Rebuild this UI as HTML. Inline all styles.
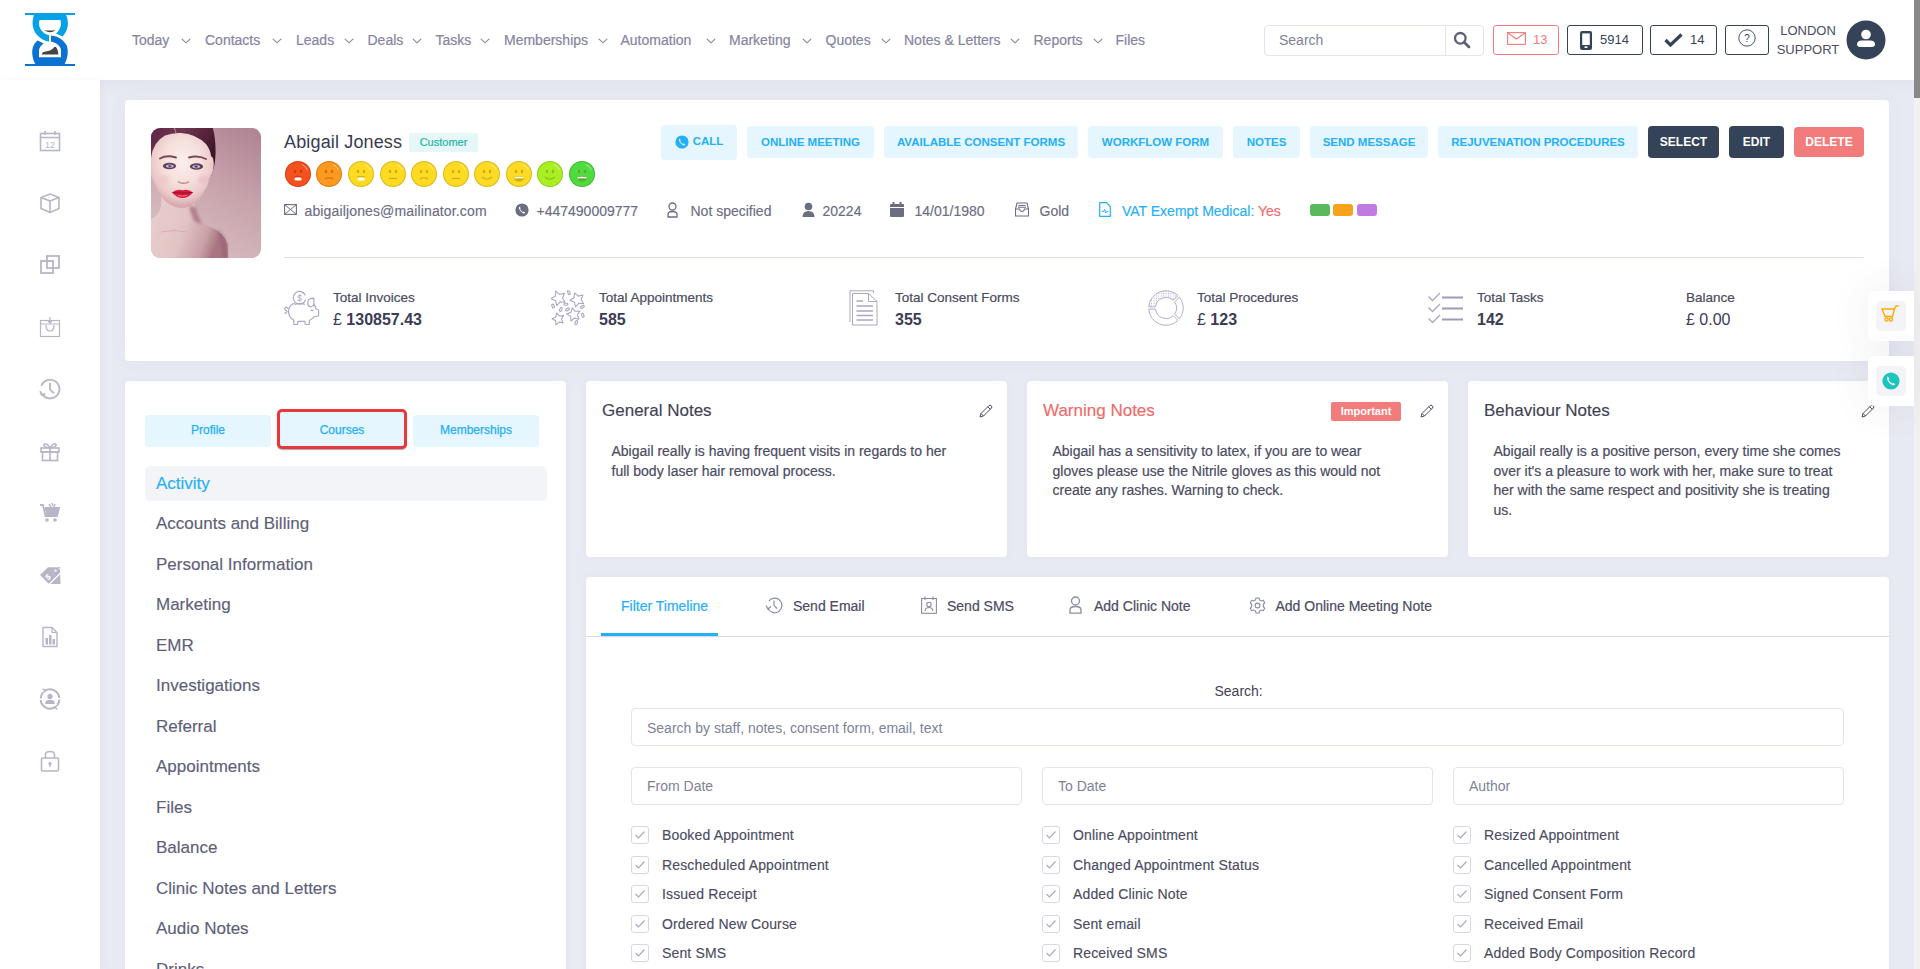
<!DOCTYPE html>
<html><head><meta charset="utf-8">
<style>
*{box-sizing:border-box;margin:0;padding:0}
html,body{width:1920px;height:969px;overflow:hidden}
body{font-family:"Liberation Sans",sans-serif;background:#e8eaf3;position:relative;color:#3f4254}
.a{position:absolute}
svg{display:block}
.hdr{left:0;top:0;width:1914px;height:80px;background:#fff;box-shadow:0 3px 12px rgba(82,63,105,.05)}
.side{left:0;top:80px;width:100px;height:889px;background:#fff;box-shadow:2px 0 6px rgba(82,63,105,.04)}
.sb{left:1914px;top:0;width:6px;height:969px;background:#f1f1f1}
.sbt{left:1914px;top:0;width:6px;height:98px;background:#888}
.nav{top:32px;font-size:14px;color:#86849f;-webkit-text-stroke:.2px #86849f;white-space:nowrap;line-height:16px}
.chev{top:38px}
.card{background:#fff;border-radius:4px;box-shadow:0 0 10px rgba(82,63,105,.03)}
.btn{top:126px;height:32px;background:#e5f6fe;color:#24b0f6;font-size:11.5px;font-weight:700;border-radius:4px;text-align:center;line-height:32px;white-space:nowrap}
.dbtn{background:#344357;color:#fff;font-size:12px}
.info{top:202.8px;font-size:14px;color:#6b6d83;-webkit-text-stroke:.15px currentColor;white-space:nowrap;line-height:16px}
.sl{top:291px;font-size:13.5px;font-weight:400;-webkit-text-stroke:.2px #4a4b60;color:#4a4b60;white-space:nowrap;line-height:14px}
.sv{top:310.5px;font-size:16px;font-weight:700;color:#3b3c55;white-space:nowrap;line-height:18px}
.sv .p{font-weight:400}
.menu{left:156px;font-size:17px;color:#5e6078;-webkit-text-stroke:.15px currentColor;white-space:nowrap;line-height:20px}
.ntitle{font-size:17px;color:#3f4254;-webkit-text-stroke:.15px currentColor;white-space:nowrap;line-height:20px;top:401px}
.ntext{font-size:14px;color:#4b4c62;-webkit-text-stroke:.2px #4b4c62;line-height:19.6px;top:442.3px;white-space:nowrap}
.tab{top:598px;font-size:14px;color:#4b4c62;-webkit-text-stroke:.2px currentColor;white-space:nowrap;line-height:16px}
.inp{border:1px solid #e2e5ec;border-radius:4px;background:#fff;font-size:14px;color:#7e8299;padding-left:15px;white-space:nowrap}
.cb{width:18px;height:18px;border:1px solid #e0e2ea;border-radius:3px;background:#fff}
.cbl{font-size:14px;color:#4b4c62;white-space:nowrap;line-height:16px;letter-spacing:.15px;-webkit-text-stroke:.15px #4b4c62}
.hb{top:25px;height:30px;border:1px solid #344357;border-radius:3px;background:#fff}
</style></head><body>
<div class="a hdr"></div>
<div class="a side"></div>
<div class="a sb"></div><div class="a sbt"></div>
<svg class="a" style="left:0;top:0" width="100" height="80" viewBox="0 0 100 80">
<path d="M51,35.4 C58,36 64,40 67,46 C68.6,52 67.8,58 64.5,64.5 L35.5,64.5 C32.2,58 31.4,52 33,47 C34,44 35.5,42 37.6,40.5 L43.6,43.6 C41,45.5 39,48 39,51 L39,57.3 L61,57.3 L61,51 C61,46.5 57.5,43.3 51,41.6 Z" fill="#0a72d1"/>
<path d="M34,15 C31.5,22 32,30 38,36 C41,39 45,41.3 49,41.5 L49,35.2 C45,34.5 41.5,31.5 39.8,27.5 C38.9,25 38.8,22 39.6,19.9 L60.4,19.9 C61.2,22 61.1,25 60.2,27.5 C59.4,29.8 57.8,32 56,33.4 L62.7,36.4 C66.2,32.4 68.4,27.5 67.8,21.5 C67.5,19 67,17 66,15 Z" fill="#06a0e6"/>
<path d="M44.2,30 Q50,31.2 55.8,30 Q50,34.5 44.2,30 Z" fill="#444"/>
<path d="M41.8,54.6 Q41.8,52.2 45.5,51.6 Q51.5,51 53.8,47.6 Q55,46 56.2,47.2 Q58.2,49.5 58.4,54.6 Z" fill="#444"/>
<rect x="25" y="13" width="50" height="2" fill="#06a0e6"/>
<rect x="25" y="64" width="50" height="2" fill="#0a72d1"/>
</svg>
<div class="a nav" style="left:132px">Today</div>
<div class="a nav" style="left:205px">Contacts</div>
<div class="a nav" style="left:296px">Leads</div>
<div class="a nav" style="left:367.5px">Deals</div>
<div class="a nav" style="left:435.5px">Tasks</div>
<div class="a nav" style="left:504px">Memberships</div>
<div class="a nav" style="left:620.5px">Automation</div>
<div class="a nav" style="left:729px">Marketing</div>
<div class="a nav" style="left:825.5px">Quotes</div>
<div class="a nav" style="left:904px">Notes &amp; Letters</div>
<div class="a nav" style="left:1033.5px">Reports</div>
<div class="a nav" style="left:1115.5px">Files</div>
<svg class="a chev" style="left:181px" width="10" height="6" viewBox="0 0 10 6"><path d="M0.8,0.8 L5,4.8 L9.2,0.8" fill="none" stroke="#86849f" stroke-width="1.1"/></svg>
<svg class="a chev" style="left:272px" width="10" height="6" viewBox="0 0 10 6"><path d="M0.8,0.8 L5,4.8 L9.2,0.8" fill="none" stroke="#86849f" stroke-width="1.1"/></svg>
<svg class="a chev" style="left:343.7px" width="10" height="6" viewBox="0 0 10 6"><path d="M0.8,0.8 L5,4.8 L9.2,0.8" fill="none" stroke="#86849f" stroke-width="1.1"/></svg>
<svg class="a chev" style="left:412px" width="10" height="6" viewBox="0 0 10 6"><path d="M0.8,0.8 L5,4.8 L9.2,0.8" fill="none" stroke="#86849f" stroke-width="1.1"/></svg>
<svg class="a chev" style="left:480px" width="10" height="6" viewBox="0 0 10 6"><path d="M0.8,0.8 L5,4.8 L9.2,0.8" fill="none" stroke="#86849f" stroke-width="1.1"/></svg>
<svg class="a chev" style="left:598px" width="10" height="6" viewBox="0 0 10 6"><path d="M0.8,0.8 L5,4.8 L9.2,0.8" fill="none" stroke="#86849f" stroke-width="1.1"/></svg>
<svg class="a chev" style="left:706px" width="10" height="6" viewBox="0 0 10 6"><path d="M0.8,0.8 L5,4.8 L9.2,0.8" fill="none" stroke="#86849f" stroke-width="1.1"/></svg>
<svg class="a chev" style="left:801.5px" width="10" height="6" viewBox="0 0 10 6"><path d="M0.8,0.8 L5,4.8 L9.2,0.8" fill="none" stroke="#86849f" stroke-width="1.1"/></svg>
<svg class="a chev" style="left:880.5px" width="10" height="6" viewBox="0 0 10 6"><path d="M0.8,0.8 L5,4.8 L9.2,0.8" fill="none" stroke="#86849f" stroke-width="1.1"/></svg>
<svg class="a chev" style="left:1010px" width="10" height="6" viewBox="0 0 10 6"><path d="M0.8,0.8 L5,4.8 L9.2,0.8" fill="none" stroke="#86849f" stroke-width="1.1"/></svg>
<svg class="a chev" style="left:1092.5px" width="10" height="6" viewBox="0 0 10 6"><path d="M0.8,0.8 L5,4.8 L9.2,0.8" fill="none" stroke="#86849f" stroke-width="1.1"/></svg>
<div class="a" style="left:1264px;top:25px;width:220px;height:31px;border:1px solid #e3e4ec;border-radius:4px;background:#fff"></div>
<div class="a" style="left:1445px;top:26px;width:1px;height:29px;background:#e3e4ec"></div>
<div class="a" style="left:1279px;top:32px;font-size:14px;color:#7e7f98;line-height:16px">Search</div>
<svg class="a" style="left:1453px;top:31px" width="18" height="18" viewBox="0 0 18 18"><circle cx="7.3" cy="7.3" r="5.3" fill="none" stroke="#5f6078" stroke-width="2.3"/><path d="M11.2,11.2 L16,16" stroke="#5f6078" stroke-width="2.8" stroke-linecap="round"/></svg>
<div class="a hb" style="left:1493px;width:66px;border-color:#f27b7b"></div>
<svg class="a" style="left:1507px;top:32px" width="19" height="13" viewBox="0 0 19 13"><rect x="0.6" y="0.6" width="17.8" height="11.8" fill="none" stroke="#f27b7b" stroke-width="1.1"/><path d="M0.8,0.8 L9.5,7 L18.2,0.8" fill="none" stroke="#f27b7b" stroke-width="1.1"/></svg>
<div class="a" style="left:1533px;top:33px;font-size:13px;color:#f27b7b;line-height:14px">13</div>
<div class="a hb" style="left:1567px;width:76px"></div>
<svg class="a" style="left:1580px;top:31px" width="12" height="19" viewBox="0 0 12 19"><rect x="0" y="0" width="12" height="19" rx="2" fill="#344357"/><rect x="2.2" y="2.4" width="7.6" height="11.6" fill="#fff"/><rect x="4.5" y="15.3" width="3" height="1.8" rx=".6" fill="#fff"/></svg>
<div class="a" style="left:1600px;top:33px;font-size:13px;color:#344357;line-height:14px">5914</div>
<div class="a hb" style="left:1650px;width:67px"></div>
<svg class="a" style="left:1664px;top:33px" width="19" height="14" viewBox="0 0 19 14"><path d="M1.5,7 L6.5,12 L17.5,1.5" fill="none" stroke="#344357" stroke-width="3.2"/></svg>
<div class="a" style="left:1690px;top:33px;font-size:13px;color:#344357;line-height:14px">14</div>
<div class="a hb" style="left:1725px;width:44px"></div>
<svg class="a" style="left:1738px;top:29px" width="18" height="18" viewBox="0 0 18 18"><circle cx="9" cy="9" r="8.2" fill="none" stroke="#344357" stroke-width="0.9"/><text x="9" y="12.6" font-size="10" text-anchor="middle" fill="#344357" font-family="Liberation Sans">?</text></svg>
<div class="a" style="left:1772px;top:21px;font-size:13px;color:#4b4c62;line-height:19px;text-align:center;width:72px">LONDON<br>SUPPORT</div>
<svg class="a" style="left:1846px;top:20px" width="40" height="40" viewBox="0 0 40 40"><circle cx="20" cy="20" r="19.5" fill="#344357"/><circle cx="20" cy="14.5" r="4.8" fill="#fff"/><path d="M11,24.5 Q11,20.5 16,20.5 L24,20.5 Q29,20.5 29,24.5 Q29,27 25,27 L15,27 Q11,27 11,24.5 Z" fill="#fff"/></svg>
<svg class="a" style="left:39px;top:130px" width="22" height="22" viewBox="0 0 22 22"><rect x="1.5" y="3.5" width="19" height="17" fill="none" stroke="#b6b6c6" stroke-width="1.6"/><path d="M1.5,7.5 H20.5 M6,1 V5 M16,1 V5" stroke="#b6b6c6" stroke-width="1.6"/><text x="11" y="17.5" font-size="9" text-anchor="middle" fill="#b6b6c6" font-family="Liberation Sans">12</text></svg>
<svg class="a" style="left:39px;top:192px" width="22" height="22" viewBox="0 0 22 22"><path d="M11,2 L20,5.5 L20,16.5 L11,20.5 L2,16.5 L2,5.5 Z M2,5.5 L11,9 L20,5.5 M11,9 V20.5" fill="none" stroke="#b6b6c6" stroke-width="1.6" stroke-linejoin="round"/></svg>
<svg class="a" style="left:39px;top:254px" width="22" height="22" viewBox="0 0 22 22"><rect x="2" y="7" width="12" height="12" fill="none" stroke="#b6b6c6" stroke-width="1.8"/><rect x="8" y="2" width="12" height="12" fill="none" stroke="#b6b6c6" stroke-width="1.8"/></svg>
<svg class="a" style="left:39px;top:316px" width="22" height="22" viewBox="0 0 22 22"><rect x="1.5" y="4.5" width="19" height="16" fill="none" stroke="#b6b6c6" stroke-width="1.2"/><path d="M1.5,8 H20.5 M7,9 Q7,15 11,15 Q15,15 15,9 M11,1 V7 M9,5 L11,7 L13,5" fill="none" stroke="#b6b6c6" stroke-width="1.2"/></svg>
<svg class="a" style="left:39px;top:378px" width="22" height="22" viewBox="0 0 22 22"><path d="M2.4,7.9 A9.3,9.3 0 1 1 3.1,15.7" fill="none" stroke="#b6b6c6" stroke-width="1.8"/><path d="M11,5 V11.3 L15,15.3" fill="none" stroke="#b6b6c6" stroke-width="1.8"/><path d="M1.2,13.2 L2.6,16.8 L6.3,16.2" fill="none" stroke="#b6b6c6" stroke-width="1.8"/></svg>
<svg class="a" style="left:39px;top:440px" width="22" height="22" viewBox="0 0 22 22"><rect x="2" y="8" width="18" height="4" fill="none" stroke="#b6b6c6" stroke-width="1.6"/><rect x="3.5" y="12" width="15" height="8.5" fill="none" stroke="#b6b6c6" stroke-width="1.6"/><path d="M11,8 V20.5 M11,8 Q7,2 5,4.5 Q4,7 11,8 Q18,7 17,4.5 Q15,2 11,8" fill="none" stroke="#b6b6c6" stroke-width="1.6"/></svg>
<svg class="a" style="left:39px;top:502px" width="22" height="22" viewBox="0 0 22 22"><path d="M1,3 H4 L6.5,14 H18 L20,6 H6" fill="none" stroke="#b6b6c6" stroke-width="1.8"/><path d="M6,7 H19.5 L17.8,13 H7.4 Z" fill="#b6b6c6"/><circle cx="8" cy="18" r="1.8" fill="#b6b6c6"/><circle cx="16" cy="18" r="1.8" fill="#b6b6c6"/><path d="M13,1 L14,4 M10,2 L12,5 M16,2 L15,5" stroke="#b6b6c6" stroke-width="1.4"/></svg>
<svg class="a" style="left:39px;top:564px" width="22" height="22" viewBox="0 0 22 22"><path d="M1,11 L9,3.2 L16.5,3.2 Q20,3.2 21,6 L21.5,20 L10,20 Z" fill="#b6b6c6"/><path d="M10,20.5 L21.5,9" stroke="#fff" stroke-width="1.3"/><circle cx="16.5" cy="6.5" r="1.3" fill="#fff"/><path d="M16.5,6.5 Q19,2 21.5,4" stroke="#b6b6c6" stroke-width="1" fill="none"/><text x="6.5" y="15.5" font-size="8" font-weight="700" fill="#fff" font-family="Liberation Sans" transform="rotate(-40 9 12.5)">$</text></svg>
<svg class="a" style="left:39px;top:626px" width="22" height="22" viewBox="0 0 22 22"><path d="M4,1.5 H13 L18,6.5 V20.5 H4 Z" fill="none" stroke="#b6b6c6" stroke-width="1.4" stroke-linejoin="round"/><path d="M13,1.5 V6.5 H18" fill="none" stroke="#b6b6c6" stroke-width="1.2"/><rect x="6.5" y="12" width="2.5" height="6.5" fill="#b6b6c6"/><rect x="10" y="9" width="2.5" height="9.5" fill="#b6b6c6"/><rect x="13.5" y="13" width="2.5" height="5.5" fill="#b6b6c6"/></svg>
<svg class="a" style="left:39px;top:688px" width="22" height="22" viewBox="0 0 22 22"><path d="M6,2.8 A9.4,9.4 0 0 1 20.3,10 M16,19.2 A9.4,9.4 0 0 1 1.7,12" fill="none" stroke="#b6b6c6" stroke-width="2"/><path d="M3.2,5 L6.6,2.6 L3.6,0.8 M18.8,17 L15.4,19.4 L18.4,21.2" fill="none" stroke="#b6b6c6" stroke-width="1.5"/><path d="M1.7,10.5 A9.4,9.4 0 0 1 3.6,5.2 M20.3,11.5 A9.4,9.4 0 0 1 18.4,16.8" fill="none" stroke="#b6b6c6" stroke-width="2"/><circle cx="11" cy="8.4" r="2.6" fill="#b6b6c6"/><path d="M6.4,16 L6.4,14.5 Q6.6,11.8 11,11.8 Q15.4,11.8 15.6,14.5 L15.6,16 Z" fill="#b6b6c6"/></svg>
<svg class="a" style="left:39px;top:750px" width="22" height="22" viewBox="0 0 22 22"><rect x="2.5" y="8" width="17" height="13" rx="1.5" fill="none" stroke="#b6b6c6" stroke-width="1.6"/><path d="M6.5,8 V4.5 Q6.5,1.5 11,1.5 Q15.5,1.5 15.5,4.5 V8" fill="none" stroke="#b6b6c6" stroke-width="1.6"/><circle cx="11" cy="13.5" r="1.6" fill="#b6b6c6"/><rect x="10.3" y="13.5" width="1.4" height="3.5" fill="#b6b6c6"/></svg>
<div class="a card" style="left:125px;top:100px;width:1764px;height:261px;box-shadow:0 0 20px rgba(82,63,105,.04)"></div>
<svg class="a" style="left:151px;top:128px" width="110" height="130" viewBox="0 0 110 130">
<defs>
<clipPath id="pc"><rect width="110" height="130" rx="9"/></clipPath>
<linearGradient id="bg" x1="0.9" y1="0" x2="0.4" y2="1"><stop offset="0" stop-color="#b08494"/><stop offset="0.45" stop-color="#c7a2ab"/><stop offset="1" stop-color="#d8bfc3"/></linearGradient>
<radialGradient id="sk" cx="0.5" cy="0.38" r="0.6"><stop offset="0" stop-color="#fbefec"/><stop offset="0.5" stop-color="#f5dfdc"/><stop offset="0.8" stop-color="#ebcaca"/><stop offset="1" stop-color="#d6a9ae"/></radialGradient>
<linearGradient id="bd" x1="0" y1="0" x2="1" y2="0.3"><stop offset="0" stop-color="#e9d0cf"/><stop offset="0.55" stop-color="#e3c4c4"/><stop offset="0.85" stop-color="#c9a0a6"/><stop offset="1" stop-color="#a87482"/></linearGradient>
<linearGradient id="hr" x1="0" y1="0" x2="1" y2="0.5"><stop offset="0" stop-color="#5c2340"/><stop offset="0.45" stop-color="#6f3652"/><stop offset="1" stop-color="#3e1528"/></linearGradient>
<filter id="bl"><feGaussianBlur stdDeviation="0.6"/></filter>
<filter id="bl2"><feGaussianBlur stdDeviation="1.6"/></filter>
</defs>
<g clip-path="url(#pc)">
<rect width="110" height="130" fill="url(#bg)"/>
<g filter="url(#bl)">
<path d="M-3,-3 L61,-3 Q65,10 64.5,26 Q64,40 60,48 L50,40 L0,40 L-3,40 Z" fill="url(#hr)"/>
<path d="M10,66 Q11,78 8,84 Q5,89 -3,93 L-3,131 L77,131 L76.5,116 Q73,106 62,100 Q53,97 48,91 Q44,85 43.5,74 Z" fill="url(#bd)"/>
<path d="M0,30 Q2,14 14,7.5 Q22,4.5 30,5 Q45,6 55,16 Q59.5,22 60,28 L62,30 Q64,38 61,46 L58,50 Q57,58 54,62 Q50,70 43.5,75 Q37,80 31,80 Q25,80 18,76 Q12,72 7,63 Q3,56 0,48 Z" fill="url(#sk)"/>
<path d="M22,-3 Q24,1 25,5" stroke="#b08090" stroke-width="1.2" fill="none"/>
</g>
<g filter="url(#bl2)" opacity=".75">
<path d="M38,79 Q43,77 45,80 Q46,88 51,95 Q46,96 43,92 Q40,86 38,79 Z" fill="#a06a7c"/>
<path d="M66,101 Q74,107 76,118 L76,131 L71,131 Q72,116 66,101 Z" fill="#9a6474"/>
<ellipse cx="12" cy="52" rx="6" ry="4" fill="#efc4c8"/><ellipse cx="52" cy="52" rx="5" ry="4" fill="#e8bcc2"/>
</g>
<path d="M10,104 Q22,101 36,104" stroke="#d5b0b2" stroke-width="1" fill="none"/>
<path d="M9,30.5 Q15.5,26.5 25,29.5 M38,29.5 Q47,27 55,31" stroke="#7a4850" stroke-width="1.9" fill="none" stroke-linecap="round"/>
<ellipse cx="18.5" cy="38" rx="6.6" ry="3.2" fill="#6a3a4c" filter="url(#bl)"/>
<ellipse cx="18.8" cy="38.1" rx="3.8" ry="1.7" fill="#d9ccd6"/><circle cx="18.8" cy="38.1" r="2.1" fill="#6d8ad2"/><circle cx="18.8" cy="38.1" r=".8" fill="#2a2a40"/>
<ellipse cx="45.5" cy="38.5" rx="6.6" ry="3.2" fill="#6a3a4c" filter="url(#bl)"/>
<ellipse cx="45.2" cy="38.6" rx="3.8" ry="1.7" fill="#d9ccd6"/><circle cx="45.2" cy="38.6" r="2.1" fill="#6d8ad2"/><circle cx="45.2" cy="38.6" r=".8" fill="#2a2a40"/>
<path d="M27,53.5 Q29,55.5 32.5,55.3 Q36,55.5 38,53.5" stroke="#c48e94" stroke-width="1.5" fill="none" filter="url(#bl)"/>
<path d="M21,64.5 Q26,60.6 31.5,62.3 Q37,60.6 42,64.5 Q37,70 31.5,70 Q26,70 21,64.5 Z" fill="#d81a3c"/>
<path d="M21.5,64.5 Q31.5,65.8 41.5,64.5" stroke="#8a0a22" stroke-width=".8" fill="none"/>
<path d="M27,67.5 Q31.5,68.8 36,67.5" stroke="#f27a90" stroke-width="1" fill="none"/>
</g></svg>
<div class="a" style="left:284px;top:132px;font-size:18px;color:#383a52;line-height:20px;white-space:nowrap;letter-spacing:.15px">Abigail Joness</div>
<div class="a" style="left:409px;top:133px;width:69px;height:19px;background:#e5f7f6;border-radius:2px;color:#25b5a6;font-size:11px;line-height:19px;text-align:center;-webkit-text-stroke:.2px #25b5a6">Customer</div>
<svg class="a" style="left:284.7px;top:160.5px" width="26" height="26" viewBox="0 0 26 26"><circle cx="13" cy="13" r="13" fill="#d83c10"/><circle cx="13" cy="13" r="12" fill="#f4511e"/><path d="M17,3.5 A10.5,10.5 0 0 1 22.5,9" stroke="rgba(255,255,255,.5)" stroke-width="1" fill="none"/><ellipse cx="10" cy="10.5" rx="1.2" ry="1.8" fill="rgba(120,30,0,.35)"/><ellipse cx="16" cy="10.5" rx="1.2" ry="1.8" fill="rgba(120,30,0,.35)"/><rect x="9.5" y="16.5" width="7" height="3" rx="1.2" fill="#fff"/><path d="M9,16 Q13,14.5 17,16" stroke="rgba(120,30,0,.35)" stroke-width="1" fill="none"/></svg>
<svg class="a" style="left:316.1px;top:160.5px" width="26" height="26" viewBox="0 0 26 26"><circle cx="13" cy="13" r="13" fill="#d87c10"/><circle cx="13" cy="13" r="12" fill="#fb9a1e"/><path d="M17,3.5 A10.5,10.5 0 0 1 22.5,9" stroke="rgba(255,255,255,.5)" stroke-width="1" fill="none"/><ellipse cx="10" cy="10.5" rx="1.2" ry="1.8" fill="rgba(120,30,0,.35)"/><ellipse cx="16" cy="10.5" rx="1.2" ry="1.8" fill="rgba(120,30,0,.35)"/><path d="M9,18 Q13,15.5 17,18" stroke="rgba(120,30,0,.35)" stroke-width="1.1" fill="none"/></svg>
<svg class="a" style="left:348.2px;top:160.5px" width="26" height="26" viewBox="0 0 26 26"><circle cx="13" cy="13" r="13" fill="#d9b81a"/><circle cx="13" cy="13" r="12" fill="#fddb22"/><path d="M17,3.5 A10.5,10.5 0 0 1 22.5,9" stroke="rgba(255,255,255,.5)" stroke-width="1" fill="none"/><ellipse cx="10" cy="10.5" rx="1.2" ry="1.8" fill="rgba(120,80,0,.35)"/><ellipse cx="16" cy="10.5" rx="1.2" ry="1.8" fill="rgba(120,80,0,.35)"/><rect x="9.5" y="16.5" width="7" height="3" rx="1.2" fill="#fff"/><path d="M9,16 Q13,14.5 17,16" stroke="rgba(120,80,0,.35)" stroke-width="1" fill="none"/></svg>
<svg class="a" style="left:379.5px;top:160.5px" width="26" height="26" viewBox="0 0 26 26"><circle cx="13" cy="13" r="13" fill="#d9b81a"/><circle cx="13" cy="13" r="12" fill="#fddb22"/><path d="M17,3.5 A10.5,10.5 0 0 1 22.5,9" stroke="rgba(255,255,255,.5)" stroke-width="1" fill="none"/><ellipse cx="10" cy="10.5" rx="1.2" ry="1.8" fill="rgba(120,80,0,.35)"/><ellipse cx="16" cy="10.5" rx="1.2" ry="1.8" fill="rgba(120,80,0,.35)"/><path d="M9,17.5 H17" stroke="rgba(120,80,0,.35)" stroke-width="1.1"/></svg>
<svg class="a" style="left:411px;top:160.5px" width="26" height="26" viewBox="0 0 26 26"><circle cx="13" cy="13" r="13" fill="#d9b81a"/><circle cx="13" cy="13" r="12" fill="#fddb22"/><path d="M17,3.5 A10.5,10.5 0 0 1 22.5,9" stroke="rgba(255,255,255,.5)" stroke-width="1" fill="none"/><ellipse cx="10" cy="10.5" rx="1.2" ry="1.8" fill="rgba(120,80,0,.35)"/><ellipse cx="16" cy="10.5" rx="1.2" ry="1.8" fill="rgba(120,80,0,.35)"/><path d="M9,18 Q13,15.5 17,18" stroke="rgba(120,80,0,.35)" stroke-width="1.1" fill="none"/></svg>
<svg class="a" style="left:443.2px;top:160.5px" width="26" height="26" viewBox="0 0 26 26"><circle cx="13" cy="13" r="13" fill="#d9b81a"/><circle cx="13" cy="13" r="12" fill="#fddb22"/><path d="M17,3.5 A10.5,10.5 0 0 1 22.5,9" stroke="rgba(255,255,255,.5)" stroke-width="1" fill="none"/><ellipse cx="10" cy="10.5" rx="1.2" ry="1.8" fill="rgba(120,80,0,.35)"/><ellipse cx="16" cy="10.5" rx="1.2" ry="1.8" fill="rgba(120,80,0,.35)"/><path d="M9,17.5 H17" stroke="rgba(120,80,0,.35)" stroke-width="1.1"/></svg>
<svg class="a" style="left:474px;top:160.5px" width="26" height="26" viewBox="0 0 26 26"><circle cx="13" cy="13" r="13" fill="#d9b81a"/><circle cx="13" cy="13" r="12" fill="#fddb22"/><path d="M17,3.5 A10.5,10.5 0 0 1 22.5,9" stroke="rgba(255,255,255,.5)" stroke-width="1" fill="none"/><ellipse cx="10" cy="10.5" rx="1.2" ry="1.8" fill="rgba(120,80,0,.35)"/><ellipse cx="16" cy="10.5" rx="1.2" ry="1.8" fill="rgba(120,80,0,.35)"/><path d="M8,16 Q13,20.5 18,16" stroke="rgba(120,80,0,.35)" stroke-width="1.1" fill="none"/></svg>
<svg class="a" style="left:506px;top:160.5px" width="26" height="26" viewBox="0 0 26 26"><circle cx="13" cy="13" r="13" fill="#d9b81a"/><circle cx="13" cy="13" r="12" fill="#fddb22"/><path d="M17,3.5 A10.5,10.5 0 0 1 22.5,9" stroke="rgba(255,255,255,.5)" stroke-width="1" fill="none"/><ellipse cx="10" cy="10.5" rx="1.2" ry="1.8" fill="rgba(120,80,0,.35)"/><ellipse cx="16" cy="10.5" rx="1.2" ry="1.8" fill="rgba(120,80,0,.35)"/><path d="M7.5,16 Q13,15 18.5,16 Q17.5,20.5 13,20.5 Q8.5,20.5 7.5,16 Z" fill="rgba(120,80,0,.35)"/><path d="M8,16.2 Q13,15.5 18,16.2 L17.3,17.5 Q13,17 8.7,17.5 Z" fill="#fff"/></svg>
<svg class="a" style="left:537px;top:160.5px" width="26" height="26" viewBox="0 0 26 26"><circle cx="13" cy="13" r="13" fill="#8ccc18"/><circle cx="13" cy="13" r="12" fill="#a8f023"/><path d="M17,3.5 A10.5,10.5 0 0 1 22.5,9" stroke="rgba(255,255,255,.5)" stroke-width="1" fill="none"/><ellipse cx="10" cy="10.5" rx="1.2" ry="1.8" fill="rgba(120,80,0,.35)"/><ellipse cx="16" cy="10.5" rx="1.2" ry="1.8" fill="rgba(120,80,0,.35)"/><path d="M8,16 Q13,20.5 18,16" stroke="rgba(120,80,0,.35)" stroke-width="1.1" fill="none"/></svg>
<svg class="a" style="left:569px;top:160.5px" width="26" height="26" viewBox="0 0 26 26"><circle cx="13" cy="13" r="13" fill="#3cb82e"/><circle cx="13" cy="13" r="12" fill="#50dc40"/><path d="M17,3.5 A10.5,10.5 0 0 1 22.5,9" stroke="rgba(255,255,255,.5)" stroke-width="1" fill="none"/><ellipse cx="10" cy="10.5" rx="1.2" ry="1.8" fill="rgba(120,80,0,.35)"/><ellipse cx="16" cy="10.5" rx="1.2" ry="1.8" fill="rgba(120,80,0,.35)"/><path d="M7.5,16 Q13,15 18.5,16 Q17.5,20.5 13,20.5 Q8.5,20.5 7.5,16 Z" fill="rgba(120,80,0,.35)"/><path d="M8,16.2 Q13,15.5 18,16.2 L17.3,17.5 Q13,17 8.7,17.5 Z" fill="#fff"/></svg>
<svg class="a" style="left:284px;top:204px" width="13" height="11" viewBox="0 0 13 11"><rect x=".6" y=".6" width="11.8" height="9.8" fill="none" stroke="#6b6d83" stroke-width="1.1"/><path d="M.8,.8 L12.2,10.2 M12.2,.8 L.8,10.2" stroke="#6b6d83" stroke-width="1"/></svg>
<div class="a info" style="left:304.5px;letter-spacing:.14px">abigailjones@mailinator.com</div>
<svg class="a" style="left:515px;top:203px" width="14" height="14" viewBox="0 0 14 14"><circle cx="7" cy="7" r="6.6" fill="#6b6d83"/><path d="M4.3,3.6 Q3.6,4.4 4,5.8 Q5,8.6 8,10.2 Q9.4,10.7 10.2,9.8 L9,8.4 L7.8,9 Q6,8 5.1,6 L5.7,4.9 Z" fill="#fff"/></svg>
<div class="a info" style="left:536.5px">+447490009777</div>
<svg class="a" style="left:667px;top:202px" width="11" height="16" viewBox="0 0 11 16"><circle cx="5.5" cy="4.5" r="3.5" fill="none" stroke="#6b6d83" stroke-width="1.3"/><path d="M1,15 L1,12.5 Q1,9.5 5.5,9.5 Q10,9.5 10,12.5 L10,15 Z" fill="none" stroke="#6b6d83" stroke-width="1.3"/></svg>
<div class="a info" style="left:690.5px">Not specified</div>
<svg class="a" style="left:802px;top:202px" width="13" height="16" viewBox="0 0 13 16"><circle cx="6.5" cy="4.5" r="3.8" fill="#6b6d83"/><path d="M0.5,15 Q0.5,9 6.5,9 Q12.5,9 12.5,15 Z" fill="#6b6d83"/></svg>
<div class="a info" style="left:822.5px">20224</div>
<svg class="a" style="left:890px;top:202px" width="14" height="15" viewBox="0 0 14 15"><rect x="0" y="2" width="14" height="13" rx="1" fill="#6b6d83"/><rect x="2.5" y="0" width="2" height="4" fill="#6b6d83"/><rect x="9.5" y="0" width="2" height="4" fill="#6b6d83"/><rect x="0" y="5" width="14" height="1" fill="#fff"/></svg>
<div class="a info" style="left:914.5px">14/01/1980</div>
<svg class="a" style="left:1015px;top:202px" width="14" height="15" viewBox="0 0 14 15"><path d="M2,1 H12 L13.5,7 V14 H0.5 V7 Z" fill="none" stroke="#6b6d83" stroke-width="1.1"/><path d="M0.5,7 H4.5 Q5,9.5 7,9.5 Q9,9.5 9.5,7 H13.5 M3.5,3.5 H10.5 M3,5.2 H11" fill="none" stroke="#6b6d83" stroke-width="1.1"/></svg>
<div class="a info" style="left:1039.5px">Gold</div>
<svg class="a" style="left:1099px;top:202px" width="12" height="15" viewBox="0 0 12 15"><path d="M.7,.7 H7.5 L11.3,4.5 V14.3 H.7 Z" fill="none" stroke="#24b0f6" stroke-width="1.2" stroke-linejoin="round"/><path d="M2.8,9.5 L4.5,9.5 L5.5,7.5 L6.8,11 L7.8,9.5 L9.3,9.5" fill="none" stroke="#24b0f6" stroke-width="1"/></svg>
<div class="a info" style="left:1122px;color:#24b0f6">VAT Exempt Medical: <span style="color:#f06a6a">Yes</span></div>
<div class="a" style="left:1310px;top:204px;width:20px;height:12px;border-radius:3px;background:#5cb85c"></div>
<div class="a" style="left:1333px;top:204px;width:20px;height:12px;border-radius:3px;background:#f7a21b"></div>
<div class="a" style="left:1357px;top:204px;width:20px;height:12px;border-radius:3px;background:#c17ae0"></div>
<div class="a btn" style="left:661px;width:76px;top:125px;height:35px;line-height:33px;padding-left:18px">CALL</div>
<svg class="a" style="left:675px;top:135px" width="14" height="14" viewBox="0 0 14 14"><circle cx="7" cy="7" r="6.6" fill="#24b0f6"/><path d="M4.3,3.6 Q3.6,4.4 4,5.8 Q5,8.6 8,10.2 Q9.4,10.7 10.2,9.8 L9,8.4 L7.8,9 Q6,8 5.1,6 L5.7,4.9 Z" fill="#e5f6fe"/></svg>
<div class="a btn" style="left:747px;width:127px">ONLINE MEETING</div>
<div class="a btn" style="left:884px;width:194px">AVAILABLE CONSENT FORMS</div>
<div class="a btn" style="left:1088px;width:135px">WORKFLOW FORM</div>
<div class="a btn" style="left:1233px;width:67px">NOTES</div>
<div class="a btn" style="left:1310px;width:118px">SEND MESSAGE</div>
<div class="a btn" style="left:1438px;width:200px">REJUVENATION PROCEDURES</div>
<div class="a btn dbtn" style="left:1648px;width:71px">SELECT</div>
<div class="a btn dbtn" style="left:1729px;width:55px">EDIT</div>
<div class="a btn dbtn" style="left:1794px;width:70px;background:#f27b7b;top:127px;height:30px;line-height:30px">DELETE</div>
<div class="a" style="left:284px;top:256.5px;width:1580px;height:1px;background:#dfe0e8"></div>
<svg class="a" style="left:283px;top:290px" width="37" height="36" viewBox="0 0 37 36" fill="none" stroke="#a9a7c4" stroke-width="1.15" stroke-linejoin="round">
<path d="M22.3,5.2 A6.3,6.3 0 1 0 22.6,9.5"/><text x="16.5" y="10.6" font-size="8.5" text-anchor="middle" fill="#a9a7c4" stroke="none" font-family="Liberation Sans">$</text>
<path d="M11.5,14.6 Q14,13.4 16.5,13.6 Q19.5,13.4 21.8,14.6"/>
<path d="M12,13 Q7,14.5 5.8,19 Q5,24 7.5,27.5 Q9,29 10.8,30.2 L11,34.5 L14.6,34.5 L14.8,31.3 L22,31.3 L22.3,34.5 L26.2,34.5 L26.4,30.4 Q29,29 31,26.8 L35.6,26 L35.6,20 L32.8,18.4 Q32,15.5 30.2,13.6"/>
<path d="M25.5,9.5 Q29,8 30.8,8.2 L31,14.5 Q29.5,17 27.2,16.8 Q24.5,16 24.8,12.8 Q25,10.5 25.5,9.5 Z"/>
<path d="M27.8,19.6 Q28.8,21.4 30.4,19.8"/>
<path d="M5.2,18.5 Q3,16.5 1.8,18.2 Q1.2,19.8 3.2,20.4 Q4.6,21 3.4,22.8 Q2.6,23.6 1.4,22.8"/>
</svg>
<svg class="a" style="left:551px;top:290px" width="36" height="36" viewBox="0 0 36 36" fill="none" stroke="#a9a7c4" stroke-width="1.1" stroke-linejoin="round"><path d="M4.75,1.15 L8.54,4.42 L13.42,3.31 L11.49,7.93 L14.05,12.23 L9.06,11.82 L5.76,15.57 L4.61,10.71 L0.02,8.73 L4.29,6.13 Z"/><path d="M23.53,2.94 L27.22,6.11 L31.97,5.04 L30.09,9.53 L32.58,13.72 L27.72,13.32 L24.51,16.98 L23.39,12.24 L18.92,10.32 L23.08,7.79 Z"/><path d="M5.70,23.01 L8.45,26.01 L12.50,25.62 L10.50,29.17 L12.12,32.90 L8.13,32.09 L5.08,34.79 L4.62,30.74 L1.11,28.68 L4.81,26.99 Z"/><path d="M21.34,17.75 L24.26,21.31 L28.86,21.10 L26.38,24.98 L28.00,29.28 L23.55,28.12 L19.95,30.99 L19.68,26.40 L15.84,23.87 L20.12,22.19 Z"/><rect x="16.90" y="0.70" width="2" height="4" rx="1" transform="rotate(-20 17.9 2.7)"/><rect x="1.10" y="14.10" width="2" height="4" rx="1" transform="rotate(-20 2.1 16.1)"/><rect x="13.90" y="12.30" width="2" height="4" rx="1" transform="rotate(90 14.9 14.3)"/><rect x="8.80" y="17.40" width="2" height="4" rx="1" transform="rotate(25 9.8 19.4)"/><rect x="15.50" y="17.40" width="2" height="4" rx="1" transform="rotate(60 16.5 19.4)"/><rect x="30.40" y="14.80" width="2" height="4" rx="1" transform="rotate(60 31.4 16.8)"/><rect x="30.80" y="23.40" width="2" height="4" rx="1" transform="rotate(-20 31.8 25.4)"/><rect x="24.30" y="30.60" width="2" height="4" rx="1" transform="rotate(25 25.3 32.6)"/></svg>
<svg class="a" style="left:849px;top:290px" width="30" height="36" viewBox="0 0 30 36" fill="none" stroke="#a9a7c2" stroke-width="1">
<path d="M1,32 V0.8 H24.5 V3.2"/><path d="M3.5,3.5 H19.5 L28,11.5 V35 H3.5 Z" fill="#fff"/><path d="M19.5,3.5 V11.5 H28"/>
<path d="M7.5,11 H14 M7.5,16 H24 M7.5,21 H24 M7.5,25.5 H24 M7.5,30 H24" stroke-width="1.3"/>
</svg>
<svg class="a" style="left:1148px;top:290px" width="36" height="36" viewBox="0 0 36 36" fill="none" stroke="#a9a7c2" stroke-width="0.9">
<defs><pattern id="dots" width="2.4" height="2.4" patternUnits="userSpaceOnUse"><circle cx="1.2" cy="1.2" r=".6" fill="#a9a7c2" stroke="none"/></pattern></defs>
<path d="M0.73,16.90 A17.3,17.3 0 0 1 30.09,5.63 L25.03,10.20 A10.5,10.5 0 0 0 7.56,16.90 Z" fill="url(#dots)"/><path d="M31.57,7.26 A17.3,17.3 0 0 1 31.57,28.74 L26.49,24.17 A10.5,10.5 0 0 0 26.49,11.83 Z"/><path d="M30.09,30.37 A17.3,17.3 0 0 1 0.73,19.10 L7.56,19.10 A10.5,10.5 0 0 0 25.03,25.80 Z"/></svg>
<svg class="a" style="left:1428px;top:292px" width="36" height="32" viewBox="0 0 36 32" fill="none" stroke="#a9a7c2" stroke-width="1.3">
<path d="M0.5,4.5 L4.5,8.5 L12,1 M0.5,15.5 L4.5,19.5 L12,12 M0.5,26.5 L4.5,30.5 L12,23"/>
<path d="M14,5.5 H35 M14,16.5 H35 M14,27.5 H35" stroke-width="1.8" stroke="#9d9bb8"/>
</svg>
<div class="a sl" style="left:333px">Total Invoices</div>
<div class="a sv" style="left:333px"><span class="p">£ </span>130857.43</div>
<div class="a sl" style="left:599px">Total Appointments</div>
<div class="a sv" style="left:599px">585</div>
<div class="a sl" style="left:895px">Total Consent Forms</div>
<div class="a sv" style="left:895px">355</div>
<div class="a sl" style="left:1197px">Total Procedures</div>
<div class="a sv" style="left:1197px"><span class="p">£ </span>123</div>
<div class="a sl" style="left:1477px">Total Tasks</div>
<div class="a sv" style="left:1477px">142</div>
<div class="a sl" style="left:1686px">Balance</div>
<div class="a sv" style="left:1686px"><span class="p">£ 0.00</span></div>
<div class="a card" style="left:125px;top:381px;width:441px;height:600px"></div>
<div class="a" style="left:145px;top:415px;width:126px;height:32px;background:#e5f6fe;border-radius:4px;color:#24b0f6;font-size:12px;text-align:center;line-height:31px;-webkit-text-stroke:.25px #24b0f6">Profile</div>
<div class="a" style="left:413px;top:415px;width:126px;height:32px;background:#e5f6fe;border-radius:4px;color:#24b0f6;font-size:12px;text-align:center;line-height:31px;-webkit-text-stroke:.25px #24b0f6">Memberships</div>
<div class="a" style="left:277px;top:409px;width:130px;height:40px;background:#e5f6fe;border:3px solid #e8383d;border-radius:5px;color:#24b0f6;font-size:12px;text-align:center;line-height:36px;-webkit-text-stroke:.25px #24b0f6;box-shadow:0 1px 1px rgba(0,0,0,.35)">Courses</div>
<div class="a" style="left:145px;top:466px;width:402px;height:35px;background:#f3f4f8;border-radius:5px"></div>
<div class="a menu" style="top:473.5px;color:#24b0f6">Activity</div>
<div class="a menu" style="top:514.0px;color:#5e6078">Accounts and Billing</div>
<div class="a menu" style="top:554.5px;color:#5e6078">Personal Information</div>
<div class="a menu" style="top:595.0px;color:#5e6078">Marketing</div>
<div class="a menu" style="top:635.5px;color:#5e6078">EMR</div>
<div class="a menu" style="top:676.0px;color:#5e6078">Investigations</div>
<div class="a menu" style="top:716.5px;color:#5e6078">Referral</div>
<div class="a menu" style="top:757.0px;color:#5e6078">Appointments</div>
<div class="a menu" style="top:797.5px;color:#5e6078">Files</div>
<div class="a menu" style="top:838.0px;color:#5e6078">Balance</div>
<div class="a menu" style="top:878.5px;color:#5e6078">Clinic Notes and Letters</div>
<div class="a menu" style="top:919.0px;color:#5e6078">Audio Notes</div>
<div class="a menu" style="top:959.5px;color:#5e6078">Drinks</div>
<div class="a card" style="left:586px;top:381px;width:421px;height:176px"></div>
<div class="a ntitle" style="left:602px;color:#3f4254">General Notes</div>
<svg class="a" style="left:978px;top:404px" width="15" height="15" viewBox="0 0 15 15"><path d="M2,13 L3,9.5 L11,1.5 Q12,.8 13,1.5 L13.5,2 Q14.2,3 13.5,4 L5.5,12 Z M3,9.5 L5.5,12 M9.8,2.8 L12.3,5.3" fill="none" stroke="#4b4c62" stroke-width="1"/></svg>
<div class="a ntext" style="left:611.5px">Abigail really is having frequent visits in regards to her<br>full body laser hair removal process.</div>
<div class="a card" style="left:1027px;top:381px;width:421px;height:176px"></div>
<div class="a ntitle" style="left:1043px;color:#f06a6a">Warning Notes</div>
<svg class="a" style="left:1419px;top:404px" width="15" height="15" viewBox="0 0 15 15"><path d="M2,13 L3,9.5 L11,1.5 Q12,.8 13,1.5 L13.5,2 Q14.2,3 13.5,4 L5.5,12 Z M3,9.5 L5.5,12 M9.8,2.8 L12.3,5.3" fill="none" stroke="#4b4c62" stroke-width="1"/></svg>
<div class="a ntext" style="left:1052.5px">Abigail has a sensitivity to latex, if you are to wear<br>gloves please use the Nitrile gloves as this would not<br>create any rashes. Warning to check.</div>
<div class="a card" style="left:1468px;top:381px;width:421px;height:176px"></div>
<div class="a ntitle" style="left:1484px;color:#3f4254">Behaviour Notes</div>
<svg class="a" style="left:1860px;top:404px" width="15" height="15" viewBox="0 0 15 15"><path d="M2,13 L3,9.5 L11,1.5 Q12,.8 13,1.5 L13.5,2 Q14.2,3 13.5,4 L5.5,12 Z M3,9.5 L5.5,12 M9.8,2.8 L12.3,5.3" fill="none" stroke="#4b4c62" stroke-width="1"/></svg>
<div class="a ntext" style="left:1493.5px">Abigail really is a positive person, every time she comes<br>over it's a pleasure to work with her, make sure to treat<br>her with the same respect and positivity she is treating<br>us.</div>
<div class="a" style="left:1331px;top:402px;width:70px;height:19px;background:#f27b7b;border-radius:2px;color:#fff;font-size:11px;font-weight:700;line-height:19px;text-align:center">Important</div>
<div class="a card" style="left:586px;top:577px;width:1303px;height:420px"></div>
<div class="a" style="left:586px;top:635.5px;width:1303px;height:1px;background:#d9dbe4"></div>
<div class="a" style="left:601px;top:633px;width:117px;height:3px;background:#24b0f6"></div>
<div class="a tab" style="left:621px;color:#24b0f6">Filter Timeline</div>
<svg class="a" style="left:765px;top:596px" width="18" height="18" viewBox="0 0 18 18" fill="none" stroke="#8a8ca2" stroke-width="1.2"><path d="M3,12.5 A7.3,7.3 0 1 0 3.8,5"/><path d="M9,4.5 V9.3 L12,12.5"/><path d="M1,9.5 L3,13 L6,10.5"/></svg>
<div class="a tab" style="left:793px">Send Email</div>
<svg class="a" style="left:921px;top:596px" width="16" height="18" viewBox="0 0 16 18" fill="none" stroke="#8a8ca2" stroke-width="1.1"><rect x=".6" y="2.5" width="14.8" height="14.8"/><path d="M4,.5 V4 M12,.5 V4"/><circle cx="8" cy="8.5" r="2.2"/><path d="M4,15 Q4.5,11.5 8,11.5 Q11.5,11.5 12,15"/></svg>
<div class="a tab" style="left:947px">Send SMS</div>
<svg class="a" style="left:1069px;top:596px" width="13" height="18" viewBox="0 0 13 18" fill="none" stroke="#8a8ca2" stroke-width="1.3"><circle cx="6.5" cy="5" r="4"/><path d="M1,17.2 V14 Q1,10.5 6.5,10.5 Q12,10.5 12,14 V17.2 Z"/></svg>
<div class="a tab" style="left:1094px">Add Clinic Note</div>
<svg class="a" style="left:1249px;top:597px" width="17" height="17" viewBox="0 0 17 17" fill="none" stroke="#8a8ca2" stroke-width="1.1"><path d="M7,1 H10 L10.5,3 L12.3,4 L14.3,3.3 L15.8,5.9 L14.3,7.3 V9.7 L15.8,11.1 L14.3,13.7 L12.3,13 L10.5,14 L10,16 H7 L6.5,14 L4.7,13 L2.7,13.7 L1.2,11.1 L2.7,9.7 V7.3 L1.2,5.9 L2.7,3.3 L4.7,4 L6.5,3 Z"/><circle cx="8.5" cy="8.5" r="2.4"/></svg>
<div class="a tab" style="left:1275.5px">Add Online Meeting Note</div>
<div class="a" style="left:1214.5px;top:683px;font-size:14px;color:#3f4254;line-height:16px">Search:</div>
<div class="a inp" style="left:631px;top:708px;width:1213px;height:38px;line-height:38px">Search by staff, notes, consent form, email, text</div>
<div class="a inp" style="left:631px;top:767px;width:391px;height:38px;line-height:36px">From Date</div>
<div class="a inp" style="left:1042px;top:767px;width:391px;height:38px;line-height:36px">To Date</div>
<div class="a inp" style="left:1453px;top:767px;width:391px;height:38px;line-height:36px">Author</div>
<svg class="a" style="left:631px;top:826.0px" width="18" height="18" viewBox="0 0 18 18"><rect x=".5" y=".5" width="17" height="17" rx="2.5" fill="#fff" stroke="#d6d8e3"/><path d="M4.5,9 L7.5,12 L13.5,5.5" fill="none" stroke="#a9abc0" stroke-width="1.2"/></svg>
<div class="a cbl" style="left:662px;top:827.0px">Booked Appointment</div>
<svg class="a" style="left:631px;top:855.8px" width="18" height="18" viewBox="0 0 18 18"><rect x=".5" y=".5" width="17" height="17" rx="2.5" fill="#fff" stroke="#d6d8e3"/><path d="M4.5,9 L7.5,12 L13.5,5.5" fill="none" stroke="#a9abc0" stroke-width="1.2"/></svg>
<div class="a cbl" style="left:662px;top:856.8px">Rescheduled Appointment</div>
<svg class="a" style="left:631px;top:885.0px" width="18" height="18" viewBox="0 0 18 18"><rect x=".5" y=".5" width="17" height="17" rx="2.5" fill="#fff" stroke="#d6d8e3"/><path d="M4.5,9 L7.5,12 L13.5,5.5" fill="none" stroke="#a9abc0" stroke-width="1.2"/></svg>
<div class="a cbl" style="left:662px;top:886.0px">Issued Receipt</div>
<svg class="a" style="left:631px;top:914.9px" width="18" height="18" viewBox="0 0 18 18"><rect x=".5" y=".5" width="17" height="17" rx="2.5" fill="#fff" stroke="#d6d8e3"/><path d="M4.5,9 L7.5,12 L13.5,5.5" fill="none" stroke="#a9abc0" stroke-width="1.2"/></svg>
<div class="a cbl" style="left:662px;top:915.9px">Ordered New Course</div>
<svg class="a" style="left:631px;top:944.1px" width="18" height="18" viewBox="0 0 18 18"><rect x=".5" y=".5" width="17" height="17" rx="2.5" fill="#fff" stroke="#d6d8e3"/><path d="M4.5,9 L7.5,12 L13.5,5.5" fill="none" stroke="#a9abc0" stroke-width="1.2"/></svg>
<div class="a cbl" style="left:662px;top:945.1px">Sent SMS</div>
<svg class="a" style="left:1042px;top:826.0px" width="18" height="18" viewBox="0 0 18 18"><rect x=".5" y=".5" width="17" height="17" rx="2.5" fill="#fff" stroke="#d6d8e3"/><path d="M4.5,9 L7.5,12 L13.5,5.5" fill="none" stroke="#a9abc0" stroke-width="1.2"/></svg>
<div class="a cbl" style="left:1073px;top:827.0px">Online Appointment</div>
<svg class="a" style="left:1042px;top:855.8px" width="18" height="18" viewBox="0 0 18 18"><rect x=".5" y=".5" width="17" height="17" rx="2.5" fill="#fff" stroke="#d6d8e3"/><path d="M4.5,9 L7.5,12 L13.5,5.5" fill="none" stroke="#a9abc0" stroke-width="1.2"/></svg>
<div class="a cbl" style="left:1073px;top:856.8px">Changed Appointment Status</div>
<svg class="a" style="left:1042px;top:885.0px" width="18" height="18" viewBox="0 0 18 18"><rect x=".5" y=".5" width="17" height="17" rx="2.5" fill="#fff" stroke="#d6d8e3"/><path d="M4.5,9 L7.5,12 L13.5,5.5" fill="none" stroke="#a9abc0" stroke-width="1.2"/></svg>
<div class="a cbl" style="left:1073px;top:886.0px">Added Clinic Note</div>
<svg class="a" style="left:1042px;top:914.9px" width="18" height="18" viewBox="0 0 18 18"><rect x=".5" y=".5" width="17" height="17" rx="2.5" fill="#fff" stroke="#d6d8e3"/><path d="M4.5,9 L7.5,12 L13.5,5.5" fill="none" stroke="#a9abc0" stroke-width="1.2"/></svg>
<div class="a cbl" style="left:1073px;top:915.9px">Sent email</div>
<svg class="a" style="left:1042px;top:944.1px" width="18" height="18" viewBox="0 0 18 18"><rect x=".5" y=".5" width="17" height="17" rx="2.5" fill="#fff" stroke="#d6d8e3"/><path d="M4.5,9 L7.5,12 L13.5,5.5" fill="none" stroke="#a9abc0" stroke-width="1.2"/></svg>
<div class="a cbl" style="left:1073px;top:945.1px">Received SMS</div>
<svg class="a" style="left:1453px;top:826.0px" width="18" height="18" viewBox="0 0 18 18"><rect x=".5" y=".5" width="17" height="17" rx="2.5" fill="#fff" stroke="#d6d8e3"/><path d="M4.5,9 L7.5,12 L13.5,5.5" fill="none" stroke="#a9abc0" stroke-width="1.2"/></svg>
<div class="a cbl" style="left:1484px;top:827.0px">Resized Appointment</div>
<svg class="a" style="left:1453px;top:855.8px" width="18" height="18" viewBox="0 0 18 18"><rect x=".5" y=".5" width="17" height="17" rx="2.5" fill="#fff" stroke="#d6d8e3"/><path d="M4.5,9 L7.5,12 L13.5,5.5" fill="none" stroke="#a9abc0" stroke-width="1.2"/></svg>
<div class="a cbl" style="left:1484px;top:856.8px">Cancelled Appointment</div>
<svg class="a" style="left:1453px;top:885.0px" width="18" height="18" viewBox="0 0 18 18"><rect x=".5" y=".5" width="17" height="17" rx="2.5" fill="#fff" stroke="#d6d8e3"/><path d="M4.5,9 L7.5,12 L13.5,5.5" fill="none" stroke="#a9abc0" stroke-width="1.2"/></svg>
<div class="a cbl" style="left:1484px;top:886.0px">Signed Consent Form</div>
<svg class="a" style="left:1453px;top:914.9px" width="18" height="18" viewBox="0 0 18 18"><rect x=".5" y=".5" width="17" height="17" rx="2.5" fill="#fff" stroke="#d6d8e3"/><path d="M4.5,9 L7.5,12 L13.5,5.5" fill="none" stroke="#a9abc0" stroke-width="1.2"/></svg>
<div class="a cbl" style="left:1484px;top:915.9px">Received Email</div>
<svg class="a" style="left:1453px;top:944.1px" width="18" height="18" viewBox="0 0 18 18"><rect x=".5" y=".5" width="17" height="17" rx="2.5" fill="#fff" stroke="#d6d8e3"/><path d="M4.5,9 L7.5,12 L13.5,5.5" fill="none" stroke="#a9abc0" stroke-width="1.2"/></svg>
<div class="a cbl" style="left:1484px;top:945.1px">Added Body Composition Record</div>
<div class="a" style="left:1868px;top:291px;width:46px;height:50px;background:#fff;border-radius:6px 0 0 6px;box-shadow:0 0 40px rgba(82,63,105,.09)"></div>
<div class="a" style="left:1868px;top:356px;width:46px;height:50px;background:#fff;border-radius:6px 0 0 6px;box-shadow:0 0 40px rgba(82,63,105,.09)"></div>
<div class="a" style="left:1876px;top:301px;width:30px;height:30px;background:#f3f3f8;border-radius:5px"></div>
<div class="a" style="left:1876px;top:366px;width:30px;height:30px;background:#f3f3f8;border-radius:5px"></div>
<svg class="a" style="left:1881px;top:305px" width="20" height="20" viewBox="0 0 20 20" fill="none" stroke="#ffa800" stroke-width="1.3"><path d="M1,4 H13.5 L11.5,11.5 H4 Z"/><path d="M13.5,4 L15,1 H17.5"/><circle cx="5.5" cy="14.5" r="1.6"/><circle cx="10" cy="14.5" r="1.6"/></svg>
<svg class="a" style="left:1882px;top:372px" width="18" height="18" viewBox="0 0 18 18"><circle cx="9" cy="9" r="8.6" fill="#1bc5bd"/><path d="M5.6,4.6 Q4.6,5.6 5.1,7.4 Q6.4,11 10.3,13.1 Q12.1,13.8 13.1,12.6 L11.6,10.8 L10.1,11.6 Q7.8,10.3 6.6,7.7 L7.4,6.3 Z" fill="#fff"/></svg>

</body></html>
